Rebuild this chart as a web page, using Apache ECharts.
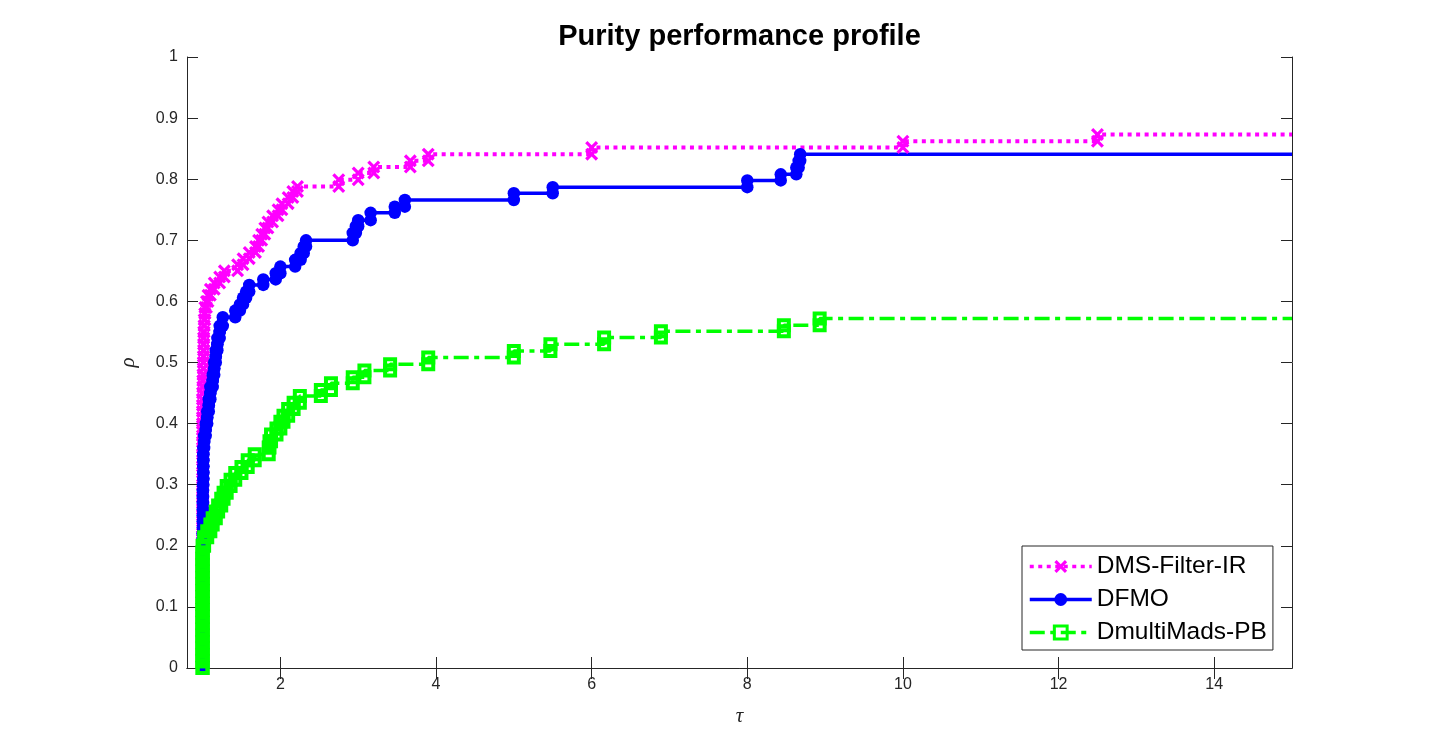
<!DOCTYPE html>
<html>
<head>
<meta charset="utf-8">
<title>Purity performance profile</title>
<script src="https://cdn.jsdelivr.net/npm/echarts@6.0.0/dist/echarts.min.js"></script>
<style>
  html, body { margin: 0; padding: 0; background: #fff; }
  #main { width: 1429px; height: 750px; }
</style>
</head>
<body>
<div id="main"></div>
<script>
// tick labels on tau axis
var tauTicks = [2, 4, 6, 8, 10, 12, 14];
var seriesNames = ['DMS-Filter-IR', 'DFMO', 'DmultiMads-PB'];

// [tau, rho] where each profile steps up
var dmsSteps = [
  [1, 0], [1, .01], [1, .02], [1, .03], [1, .04], [1, .05], [1, .06], [1, .07], [1, .08], [1, .09], [1, .10],
  [1, .11], [1, .12], [1, .13], [1, .14], [1, .15], [1, .16], [1, .17], [1, .18], [1, .19], [1, .20],
  [1, .21], [1, .22], [1, .23], [1, .24], [1, .25], [1, .26], [1, .27], [1, .28], [1, .29], [1, .30],
  [1, .31], [1, .32], [1, .33], [1, .34], [1, .35], [1, .36], [1, .37], [1, .38], [1, .39], [1, .40],
  [1, .41], [1, .42], [1, .43], [1, .44], [1, .45],
  [1.005, .46], [1.005, .47], [1.005, .48], [1.01, .49], [1.01, .50], [1.01, .51],
  [1.015, .52], [1.015, .53], [1.015, .54], [1.015, .55], [1.02, .56], [1.02, .57],
  [1.03, .58], [1.03, .59], [1.05, .60], [1.07, .61], [1.1, .62], [1.15, .63], [1.22, .64], [1.28, .65],
  [1.45, .66], [1.52, .67], [1.6, .68], [1.68, .69], [1.72, .70], [1.76, .71], [1.8, .72], [1.84, .73],
  [1.9, .74], [1.97, .75], [2.02, .76], [2.1, .77], [2.16, .78], [2.22, .788],
  [2.75, .799], [3.0, .81], [3.2, .82], [3.67, .83], [3.9, .841], [6.0, .852], [10.0, .862], [12.5, .873]
];

var dfmoSteps = [
  [1, 0], [1, .01], [1, .02], [1, .03], [1, .04], [1, .05], [1, .06], [1, .07], [1, .08], [1, .09], [1, .10],
  [1, .11], [1, .12], [1, .13], [1, .14], [1, .15], [1, .16], [1, .17], [1, .18], [1, .19], [1, .20],
  [1, .21], [1, .22], [1.005, .23], [1.005, .24], [1.005, .25], [1.005, .26], [1.005, .27], [1.005, .28],
  [1.005, .29], [1.005, .30], [1.01, .31], [1.01, .32], [1.01, .33], [1.01, .34], [1.01, .35], [1.01, .36],
  [1.02, .37], [1.02, .38], [1.04, .39], [1.04, .40], [1.06, .41], [1.06, .42], [1.08, .43], [1.08, .44],
  [1.1, .45], [1.1, .46], [1.13, .47], [1.13, .48], [1.15, .49], [1.15, .50], [1.17, .51], [1.17, .52],
  [1.19, .53], [1.19, .54], [1.22, .55], [1.22, .56], [1.26, .574],
  [1.42, .585], [1.48, .595], [1.52, .606], [1.56, .616], [1.6, .627], [1.78, .636], [1.94, .646],
  [2.0, .657], [2.19, .668], [2.26, .679], [2.3, .69], [2.33, .70],
  [2.93, .712], [2.97, .723], [3.0, .733], [3.16, .745], [3.47, .755], [3.6, .766], [5.0, .777],
  [5.5, .787], [8.0, .798], [8.43, .808], [8.63, .819], [8.66, .83], [8.68, .841]
];

var dmmSteps = [
  [1, 0], [1, .011], [1, .021], [1, .032], [1, .042], [1, .053], [1, .063], [1, .074], [1, .084], [1, .095],
  [1, .105], [1, .116], [1, .126], [1, .137], [1, .147], [1, .158], [1, .168], [1, .179], [1, .189], [1, .2],
  [1.02, .214], [1.06, .224], [1.1, .235], [1.13, .245], [1.17, .256], [1.2, .266], [1.24, .277],
  [1.27, .287], [1.31, .298], [1.36, .308], [1.42, .319], [1.5, .329], [1.58, .34], [1.67, .35],
  [1.85, .361], [1.86, .371], [1.88, .382], [1.95, .392], [2.0, .403], [2.04, .413], [2.1, .424],
  [2.17, .434], [2.25, .445], [2.52, .455], [2.65, .466], [2.93, .476], [3.08, .487], [3.41, .497],
  [3.9, .508], [5.0, .519], [5.47, .53], [6.16, .541], [6.89, .551], [8.47, .561], [8.93, .572]
];

var tauMin = 0.8, tauMax = 15;

// staircase vertices like MATLAB stairs(): marker at both ends of every riser,
// last step is carried out to the right edge without a marker
function stairs(steps) {
    var pts = [steps[0]];
    for (var i = 1; i < steps.length; i++) {
        pts.push([steps[i][0], steps[i - 1][1]]);
        pts.push(steps[i]);
    }
    pts.push({ value: [tauMax, steps[steps.length - 1][1]], symbol: 'none' });
    return pts;
}

var xMark = 'path://M3.5,0 L10,6.5 L16.5,0 L20,3.5 L13.5,10 L20,16.5 L16.5,20 L10,13.5 L3.5,20 L0,16.5 L6.5,10 L0,3.5 Z';
var axisColor = '#262626';
var font = 'Liberation Sans, Arial, sans-serif';

var myChart = echarts.init(document.getElementById('main'));

var boxAxis = {
    axisLine: { show: true, lineStyle: { color: axisColor, width: 1 } },
    splitLine: { show: false }
};

var option = {
    backgroundColor: '#fff',
    animation: false,
    graphic: [{
        type: 'text',
        x: 739.5, y: 37,
        style: {
            text: 'Purity performance profile',
            font: 'bold 29px ' + font,
            fill: '#000',
            textAlign: 'center',
            textVerticalAlign: 'middle'
        }
    }],
    grid: { left: 187, right: 137, top: 57, bottom: 82, containLabel: false },
    legend: {
        orient: 'vertical',
        left: 1022, top: 546,
        data: seriesNames,
        itemWidth: 62, itemHeight: 16, itemGap: 8,
        padding: [8, 6, 5, 6],
        borderColor: axisColor, borderWidth: 1,
        backgroundColor: '#fff',
        lineStyle: { width: 3.5 },
        itemStyle: { borderWidth: 3 },
        textStyle: { fontFamily: font, fontSize: 24.5, color: '#000' }
    },
    xAxis: [
        Object.assign({}, boxAxis, {
            type: 'value', position: 'bottom', min: tauMin, max: tauMax,
            name: 'τ', nameLocation: 'middle', nameGap: 38,
            nameTextStyle: { fontFamily: 'Liberation Serif', fontStyle: 'italic', fontSize: 21, color: axisColor },
            axisTick: { show: true, inside: true, length: 11, customValues: tauTicks, lineStyle: { color: axisColor } },
            axisLabel: { show: true, customValues: tauTicks, fontFamily: font, fontSize: 16, color: axisColor, margin: 9 }
        }),
        Object.assign({}, boxAxis, {
            type: 'value', position: 'top', min: tauMin, max: tauMax,
            axisTick: { show: true, inside: true, length: 11, customValues: tauTicks, lineStyle: { color: axisColor } },
            axisLabel: { show: false }
        })
    ],
    yAxis: [
        Object.assign({}, boxAxis, {
            type: 'value', position: 'left', min: 0, max: 1, interval: 0.1,
            name: 'ρ', nameLocation: 'middle', nameGap: 48,
            nameTextStyle: { fontFamily: 'Liberation Serif', fontStyle: 'italic', fontSize: 21, color: axisColor },
            axisTick: { show: true, inside: true, length: 11, lineStyle: { color: axisColor } },
            axisLabel: { fontFamily: font, fontSize: 16, color: axisColor, margin: 9 }
        }),
        Object.assign({}, boxAxis, {
            type: 'value', position: 'right', min: 0, max: 1, interval: 0.1,
            axisTick: { show: true, inside: true, length: 11, lineStyle: { color: axisColor } },
            axisLabel: { show: false }
        })
    ],
    series: [
        {
            name: seriesNames[0], type: 'line', data: stairs(dmsSteps),
            xAxisIndex: 0, yAxisIndex: 0, clip: true,
            symbol: xMark, symbolSize: 13, showAllSymbol: true,
            itemStyle: { color: '#ff00ff' },
            lineStyle: { color: '#ff00ff', width: 4, type: [4, 4.5], cap: 'butt' }
        },
        {
            name: seriesNames[1], type: 'line', data: stairs(dfmoSteps),
            xAxisIndex: 0, yAxisIndex: 0, clip: true,
            symbol: 'circle', symbolSize: 12.5, showAllSymbol: true,
            itemStyle: { color: '#0000ff' },
            lineStyle: { color: '#0000ff', width: 3.5, type: 'solid' }
        },
        {
            name: seriesNames[2], type: 'line', data: stairs(dmmSteps),
            xAxisIndex: 0, yAxisIndex: 0, clip: true,
            symbol: 'rect', symbolSize: 10, showAllSymbol: true,
            itemStyle: { color: 'rgba(255,255,255,0)', borderColor: '#00ff00', borderWidth: 4 },
            lineStyle: { color: '#00ff00', width: 3.5, type: [15, 5.5, 5, 5.5], cap: 'butt' }
        }
    ]
};

myChart.setOption(option);
</script>
</body>
</html>
